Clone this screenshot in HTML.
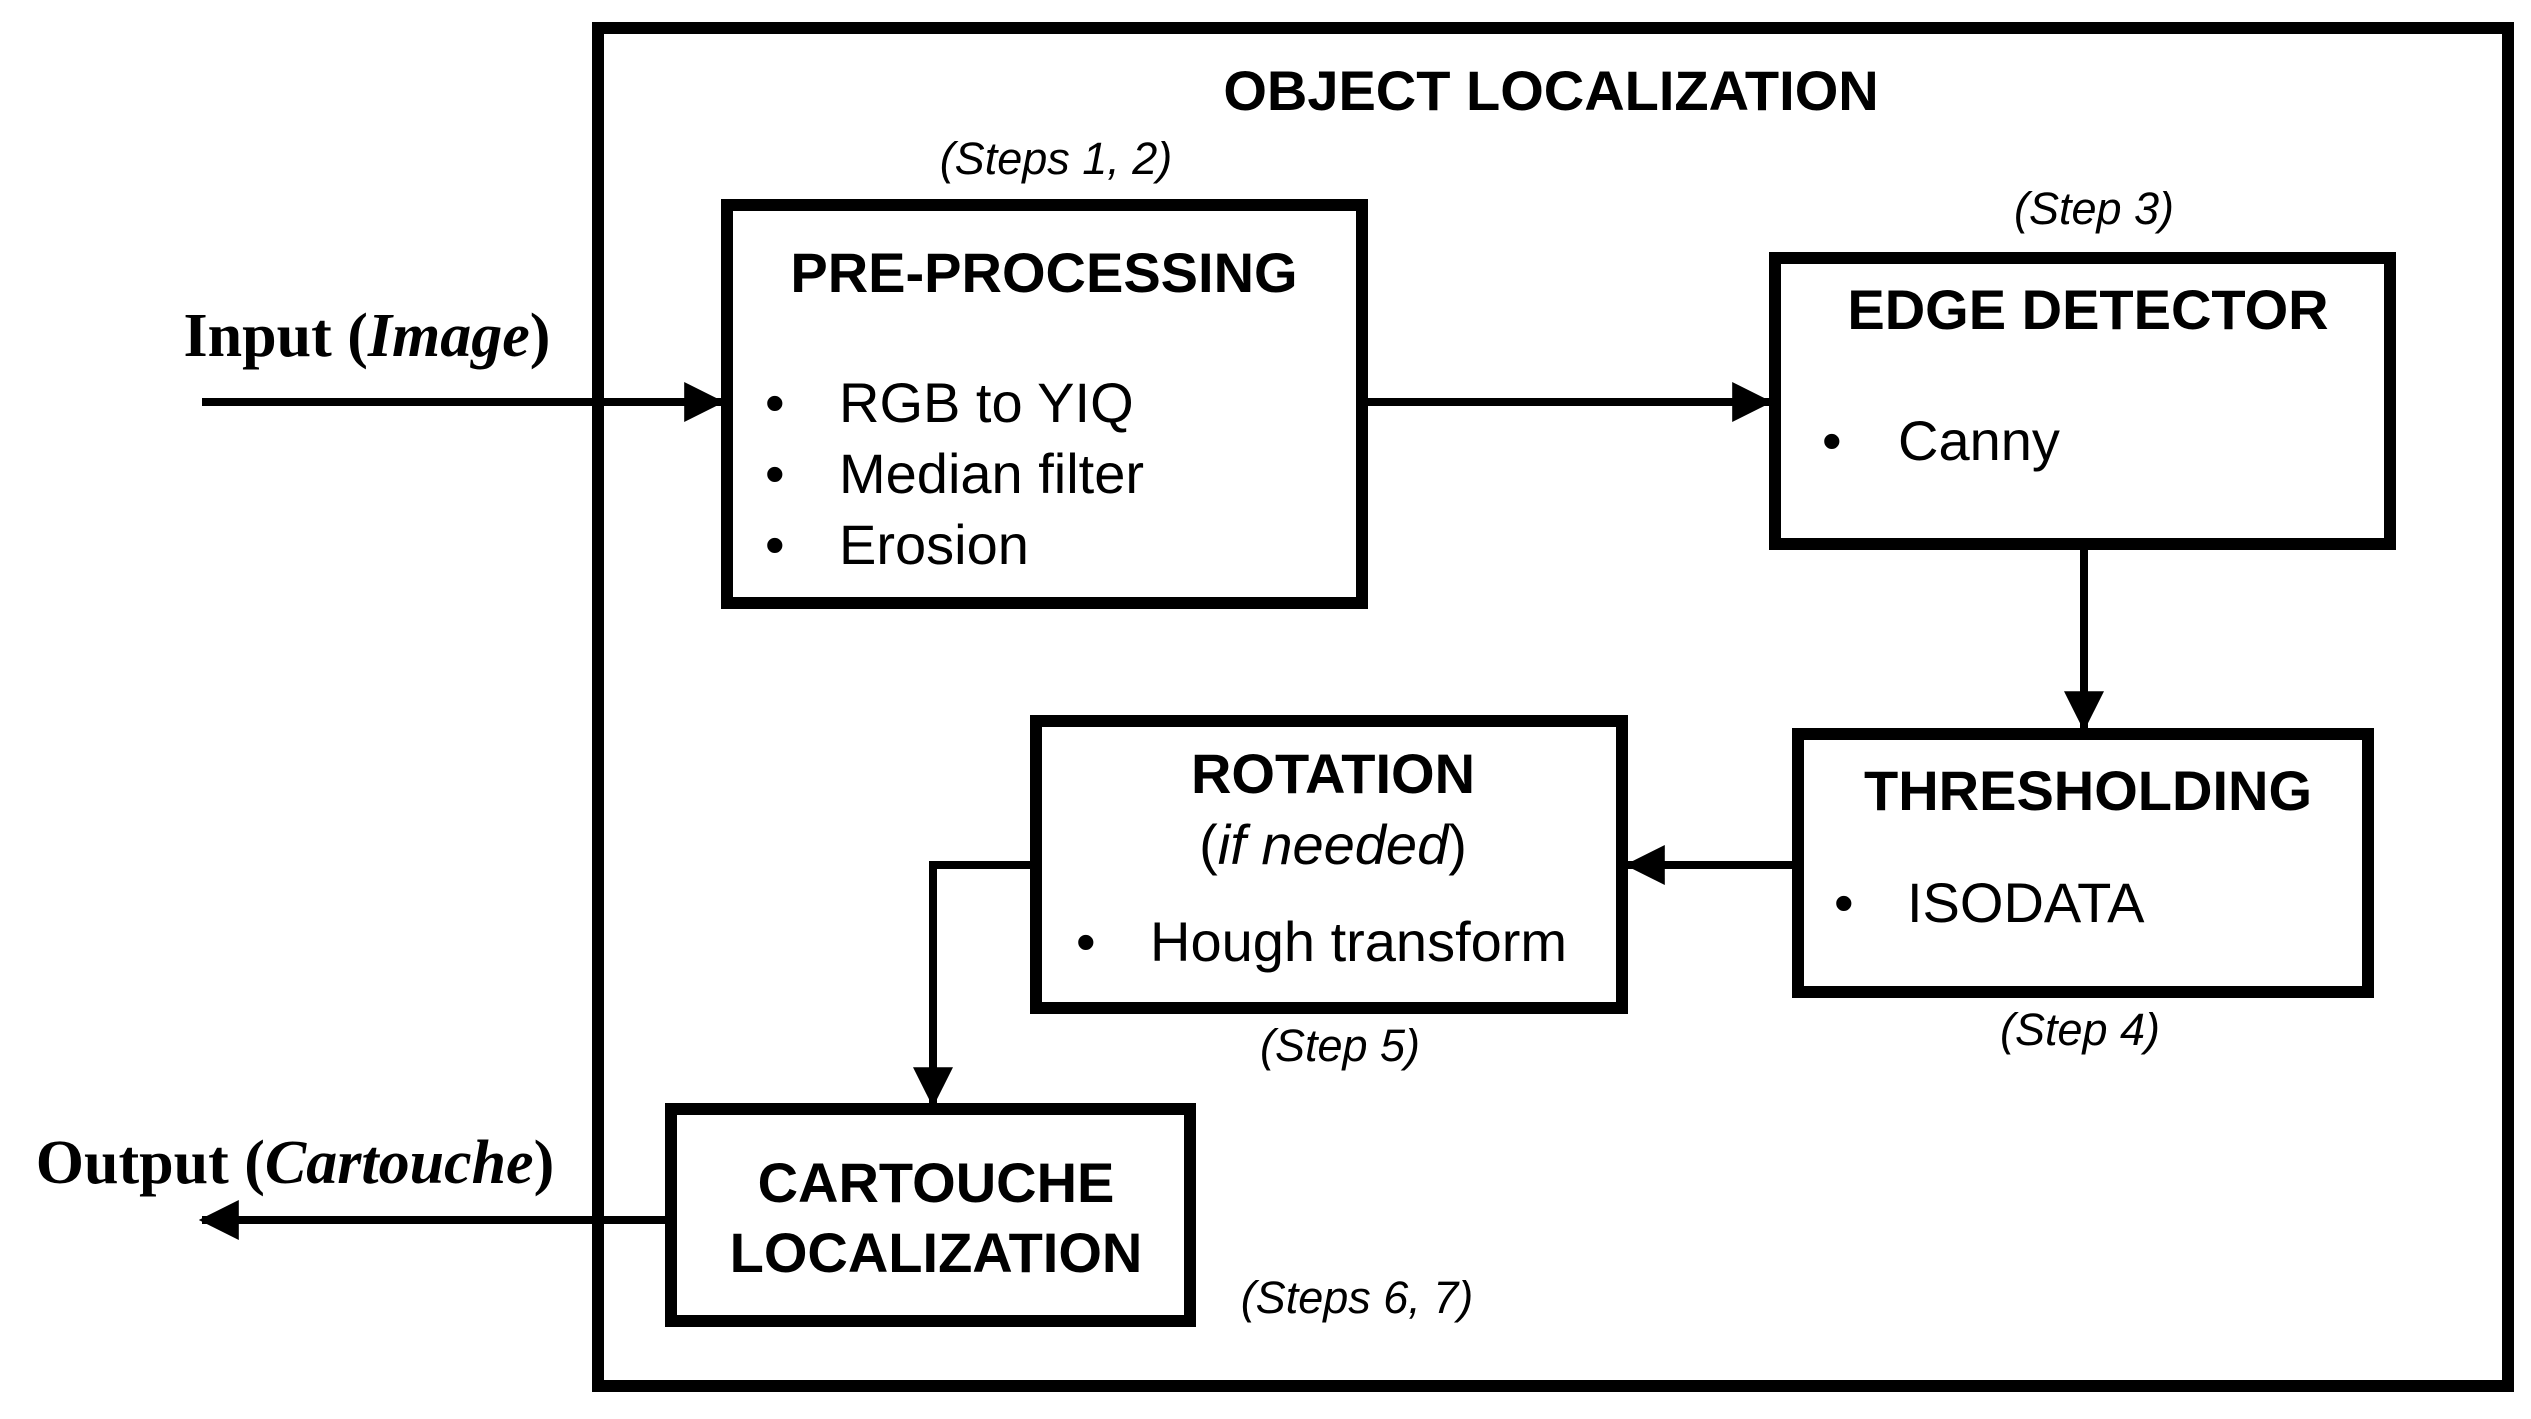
<!DOCTYPE html>
<html><head><meta charset="utf-8"><style>
html,body{margin:0;padding:0;background:#fff;}
svg{display:block;}
.h{font-family:"Liberation Sans",Arial,sans-serif;font-weight:bold;font-size:56px;text-anchor:middle;}
.t{font-family:"Liberation Sans",Arial,sans-serif;font-size:56px;}
.s{font-family:"Liberation Sans",Arial,sans-serif;font-style:italic;font-size:45px;text-anchor:middle;}
.io{font-family:"Liberation Serif","Times New Roman",serif;font-weight:bold;font-size:62px;text-anchor:middle;}
</style></head><body>
<svg width="2531" height="1419" viewBox="0 0 2531 1419" xmlns="http://www.w3.org/2000/svg">
<defs>
<marker id="a" markerWidth="5" markerHeight="5" refX="4.6" refY="2.5" orient="auto" markerUnits="strokeWidth">
<path d="M0,0 L5,2.5 L0,5 z" fill="#000"/></marker>
</defs>
<g fill="none" stroke="#000">
<rect x="598" y="28" width="1910" height="1358" stroke-width="12"/>
<rect x="727" y="205" width="635" height="398" stroke-width="12"/>
<rect x="1775" y="258" width="615" height="286" stroke-width="12"/>
<rect x="1798" y="734" width="570" height="258" stroke-width="12"/>
<rect x="1036" y="721" width="586" height="287" stroke-width="12"/>
<rect x="671" y="1109" width="519" height="212" stroke-width="12"/>
<g stroke-width="8">
<line x1="202" y1="402" x2="721" y2="402" marker-end="url(#a)"/>
<line x1="1368" y1="402" x2="1769" y2="402" marker-end="url(#a)"/>
<line x1="2084" y1="550" x2="2084" y2="728" marker-end="url(#a)"/>
<line x1="1792" y1="865" x2="1628" y2="865" marker-end="url(#a)"/>
<polyline points="1030,865 933,865 933,1104" marker-end="url(#a)"/>
<line x1="665" y1="1220" x2="202" y2="1220" marker-end="url(#a)"/>
</g>
</g>
<text class="h" x="1551" y="110">OBJECT LOCALIZATION</text>
<text class="s" x="1056" y="174">(Steps 1, 2)</text>
<text class="h" x="1044" y="292">PRE-PROCESSING</text>
<text class="t" x="765" y="422">•</text><text class="t" x="839" y="422">RGB to YIQ</text>
<text class="t" x="765" y="493">•</text><text class="t" x="839" y="493">Median filter</text>
<text class="t" x="765" y="564">•</text><text class="t" x="839" y="564">Erosion</text>
<text class="s" x="2094" y="224">(Step 3)</text>
<text class="h" x="2088" y="329">EDGE DETECTOR</text>
<text class="t" x="1822" y="460">•</text><text class="t" x="1898" y="460">Canny</text>
<text class="h" x="2088" y="810">THRESHOLDING</text>
<text class="t" x="1834" y="922">•</text><text class="t" x="1907" y="922">ISODATA</text>
<text class="s" x="2080" y="1045">(Step 4)</text>
<text class="h" x="1333" y="793">ROTATION</text>
<text class="t" x="1333" y="864" text-anchor="middle">(<tspan font-style="italic">if needed</tspan>)</text>
<text class="t" x="1076" y="961">•</text><text class="t" x="1150" y="961">Hough transform</text>
<text class="s" x="1340" y="1061">(Step 5)</text>
<text class="h" x="936" y="1202">CARTOUCHE</text>
<text class="h" x="936" y="1272">LOCALIZATION</text>
<text class="s" x="1357" y="1313">(Steps 6, 7)</text>
<text class="io" x="367" y="356">Input (<tspan font-style="italic">Image</tspan>)</text>
<text class="io" x="295" y="1183">Output (<tspan font-style="italic">Cartouche</tspan>)</text>
</svg>
</body></html>
